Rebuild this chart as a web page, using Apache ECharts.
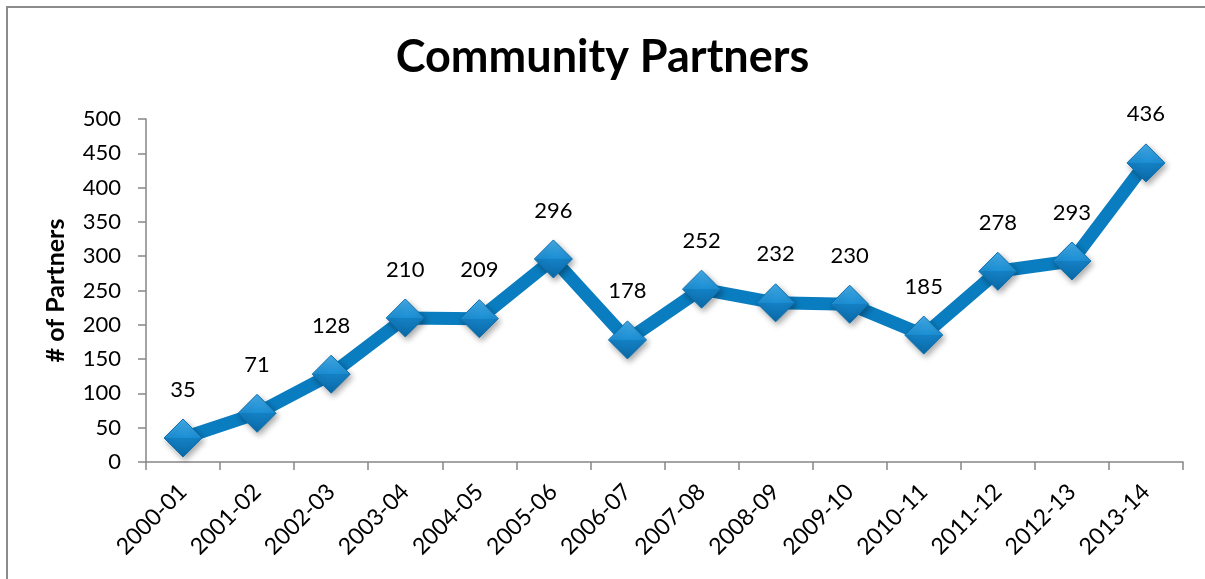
<!DOCTYPE html>
<html>
<head>
<meta charset="utf-8">
<script src="https://cdn.jsdelivr.net/npm/echarts@6/dist/echarts.min.js"></script>
<style>
  html, body { margin: 0; padding: 0; background: #fff; }
  #frame { position: absolute; left: 6px; top: 6px; width: 1205px; height: 579px;
           border-left: 2px solid #8c8c8c; border-top: 2px solid #8c8c8c; }
  #chart { position: absolute; left: 0; top: 0; width: 1205px; height: 579px; }
</style>
</head>
<body>
<div id="frame"></div>
<div id="chart"></div>
<script>
// 学年
const years = ['2000-01', '2001-02', '2002-03', '2003-04', '2004-05', '2005-06', '2006-07',
  '2007-08', '2008-09', '2009-10', '2010-11', '2011-12', '2012-13', '2013-14']
// 合作伙伴数量
const partners = [35, 71, 128, 210, 209, 296, 178, 252, 232, 230, 185, 278, 293, 436]

const font = 'Lato, "Open Sans", sans-serif'
const axisGray = '#868686'

const chart = echarts.init(document.getElementById('chart'))
chart.setOption({
  animation: false,
  title: {
    text: 'Community Partners',
    left: 'center',
    top: 30,
    textStyle: { fontFamily: font, fontSize: 45, fontWeight: 'bold', color: '#000' }
  },
  grid: { left: 146, right: 22, top: 119, bottom: 117 },
  xAxis: {
    type: 'category',
    data: years,
    boundaryGap: true,
    axisLine: { lineStyle: { color: axisGray, width: 1.5 } },
    axisTick: { show: true, length: 8, alignWithLabel: false, lineStyle: { color: axisGray, width: 1.5 } },
    axisLabel: { rotate: 45, margin: 26, fontFamily: font, fontSize: 23, color: '#000' }
  },
  yAxis: {
    type: 'value',
    min: 0,
    max: 500,
    interval: 50,
    name: '# of Partners',
    nameLocation: 'middle',
    nameRotate: 90,
    nameGap: 78,
    nameTextStyle: { fontFamily: font, fontSize: 25, fontWeight: 'bold', color: '#000' },
    splitLine: { show: false },
    axisLine: { show: true, lineStyle: { color: axisGray, width: 1.5 } },
    axisTick: { show: true, length: 8, lineStyle: { color: axisGray, width: 1.5 } },
    axisLabel: { margin: 25, fontFamily: font, fontSize: 22, color: '#000' }
  },
  series: [{
    type: 'line',
    data: partners,
    symbol: 'diamond',
    symbolSize: 38,
    lineStyle: { color: '#0a7dc0', width: 13 },
    itemStyle: {
      color: new echarts.graphic.LinearGradient(0, 0, 0, 1, [
        { offset: 0, color: '#45ace8' },
        { offset: 0.5, color: '#1b8ed3' },
        { offset: 0.5, color: '#1480c4' },
        { offset: 1, color: '#0b6aa8' }
      ]),
      borderColor: '#0c6fae',
      borderWidth: 1,
      shadowColor: 'rgba(0,0,0,0.35)',
      shadowBlur: 6,
      shadowOffsetX: 2,
      shadowOffsetY: 3
    },
    label: {
      show: true,
      position: 'top',
      distance: 18,
      fontFamily: font,
      fontSize: 22,
      color: '#000'
    }
  }]
})
</script>
</body>
</html>
